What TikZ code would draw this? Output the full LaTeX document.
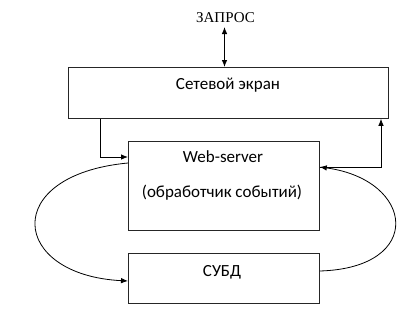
\documentclass[tikz,border=0pt]{standalone}
\usepackage{fontspec}
\setmainfont{Carlito}
\newfontfamily\reqfont{Liberation Serif}
\usetikzlibrary{arrows.meta,positioning}
\tikzset{
  blockbox/.style={draw=black!85, line width=0.8pt, inner sep=0pt, anchor=north west},
  boxtext/.style={anchor=base, inner sep=0pt, font=\fontsize{17}{20}\selectfont},
  link/.style={line width=0.8pt, -{Latex[length=7pt,width=5.5pt]}}
}
\begin{document}
\begin{tikzpicture}[x=1pt, y=-1pt]
  \useasboundingbox (0,0) rectangle (414,332);
  % blocks
  \node[blockbox, minimum width=320pt, minimum height=51pt] (fw) at (68,67) {};
  \node[blockbox, minimum width=191pt, minimum height=89pt] (web) at (128,141) {};
  \node[blockbox, minimum width=191pt, minimum height=50pt] (db) at (128,253) {};
  \node[boxtext] (fwtext) at (228,89) {Сетевой экран};
  \node[boxtext] (webtext) at (223,162.5) {Web-server};
  \node[boxtext] (webnote) at (222,197) {(обработчик событий)};
  \node[boxtext] (dbtext) at (222,276.5) {СУБД};
  \node[anchor=base, inner sep=0pt, font=\reqfont\fontsize{15}{18}\selectfont] (req) at (225.5,22.5) {ЗАПРОС};
  % connectors
  \coordinate (reqend) at (224.5,27);
  \draw[link, {Latex[length=7pt,width=5.5pt]}-{Latex[length=7pt,width=5.5pt]}] (reqend) -- (reqend |- fw.north);
  \coordinate (fwout) at (100,0);
  \coordinate (fwin) at (381,0);
  \coordinate (webin) at (0,157);
  \coordinate (webout) at (0,167);
  \draw[link] (fwout |- fw.south) |- (web.west |- webin);
  \draw[link] (web.east |- webout) -| (fwin |- fw.south);
  \draw[link] (web.west |- 0,163) .. controls (0,175) and (10,275) .. (db.west |- 0,281);
  \draw[link] (db.east |- 0,271) .. controls (425,268) and (415,180) .. (web.east |- webout);
\end{tikzpicture}
\end{document}
